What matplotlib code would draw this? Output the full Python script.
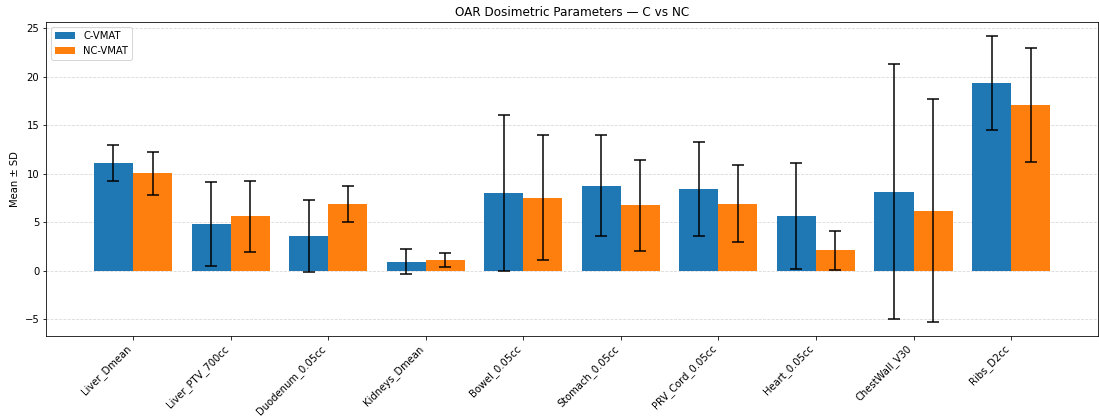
import matplotlib
matplotlib.use("Agg")
import matplotlib.pyplot as plt
import numpy as np

categories = ["Liver_Dmean", "Liver_PTV_700cc", "Duodenum_0.05cc", "Kidneys_Dmean",
              "Bowel_0.05cc", "Stomach_0.05cc", "PRV_Cord_0.05cc", "Heart_0.05cc",
              "ChestWall_V30", "Ribs_D2cc"]
c_mean = [11.15, 4.85, 3.6, 0.95, 8.05, 8.75, 8.45, 5.65, 8.15, 19.35]
c_sd = [1.85, 4.3, 3.7, 1.3, 8.05, 5.2, 4.85, 5.5, 13.1, 4.8]
nc_mean = [10.05, 5.6, 6.9, 1.1, 7.55, 6.75, 6.9, 2.1, 6.2, 17.1]
nc_sd = [2.2, 3.65, 1.85, 0.75, 6.45, 4.7, 3.95, 2.0, 11.45, 5.85]
series_labels = ["C-VMAT", "NC-VMAT"]

DPI = 72
fig, ax = plt.subplots(figsize=(1099 / DPI, 416 / DPI), dpi=DPI)
x = np.arange(len(categories))
w = 0.4
ax.bar(x - w/2, c_mean, w, yerr=c_sd, capsize=6, label=series_labels[0], color="#1f77b4",
       error_kw=dict(elinewidth=1.5, capthick=1.5))
ax.bar(x + w/2, nc_mean, w, yerr=nc_sd, capsize=6, label=series_labels[1], color="#ff7f0e",
       error_kw=dict(elinewidth=1.5, capthick=1.5))
ax.set_xticks(x)
ax.set_xticklabels(categories, rotation=45, ha="right")
ax.set_ylabel("Mean ± SD")
ax.set_title("OAR Dosimetric Parameters — C vs NC")
ax.grid(axis="y", linestyle="--", alpha=0.5)
ax.set_axisbelow(True)
ax.legend(loc="upper left")
fig.subplots_adjust(left=0.042, right=0.999, top=0.947, bottom=0.192)
fig.savefig("out.png", dpi=DPI)
